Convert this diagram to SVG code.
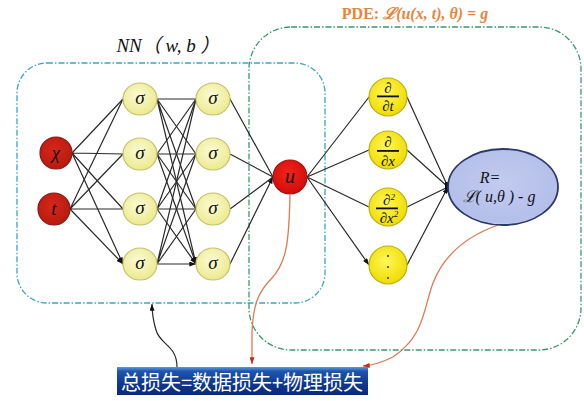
<svg xmlns="http://www.w3.org/2000/svg" width="584" height="401" viewBox="0 0 584 401">
<style>
.e{stroke:#2a2a2a;stroke-width:1.2;fill:none;marker-end:url(#arr)}
.sig{fill:url(#gSig);stroke:#c4c06a;stroke-width:1.2}
.der{fill:url(#gDer);stroke:#bfae10;stroke-width:1.2}
.in{fill:url(#gIn);stroke:#861810;stroke-width:1.2}
.mt{font-family:'Liberation Serif',serif;font-style:italic;fill:#111;text-anchor:middle}
.box{fill:none;stroke-width:1.3;stroke-dasharray:6 2 1.5 2}
</style>
<defs>
<marker id="arr" viewBox="0 0 8 6" refX="8" refY="3" markerWidth="7" markerHeight="5" markerUnits="userSpaceOnUse" orient="auto"><path d="M0,0 L8,3 L0,6 z" fill="#111"/></marker>
<marker id="arrO" viewBox="0 0 8 6" refX="8" refY="3" markerWidth="7" markerHeight="5" markerUnits="userSpaceOnUse" orient="auto"><path d="M0,0 L8,3 L0,6 z" fill="#c8281a"/></marker>
<radialGradient id="gSig" cx="45%" cy="40%" r="60%"><stop offset="0" stop-color="#fbfbd8"/><stop offset="1" stop-color="#ecea8c"/></radialGradient>
<radialGradient id="gDer" cx="45%" cy="40%" r="60%"><stop offset="0" stop-color="#fff75a"/><stop offset="1" stop-color="#eedc00"/></radialGradient>
<radialGradient id="gIn" cx="45%" cy="40%" r="60%"><stop offset="0" stop-color="#d8261a"/><stop offset="1" stop-color="#b81a10"/></radialGradient>
<radialGradient id="gU" cx="45%" cy="40%" r="60%"><stop offset="0" stop-color="#f42418"/><stop offset="1" stop-color="#d00c0c"/></radialGradient>
<radialGradient id="gEl" cx="50%" cy="45%" r="60%"><stop offset="0" stop-color="#c2cbef"/><stop offset="0.85" stop-color="#b4bfea"/><stop offset="1" stop-color="#dfe6fa"/></radialGradient>
<linearGradient id="gBox" x1="0" y1="0" x2="0" y2="1"><stop offset="0" stop-color="#5a9ae0"/><stop offset="0.15" stop-color="#1f55ad"/><stop offset="0.6" stop-color="#0f3791"/><stop offset="1" stop-color="#0a2a78"/></linearGradient>
</defs>
<rect width="584" height="401" fill="#fff"/>

<g id="nn-box">
<rect class="box" x="17" y="63" width="308" height="240" rx="30" ry="30" stroke="#3aa6c4"/>
<text x="168" y="52" class="mt" font-size="19" style="font-family:'Liberation Serif','Noto Sans CJK SC',serif">NN（ <tspan>w, b</tspan> ）</text>
</g>
<g id="pde-box">
<rect class="box" x="249" y="27" width="332" height="323" rx="42" ry="42" stroke="#3a9a6c"/>
<text x="415" y="19" text-anchor="middle" fill="#e8853a" font-size="16" font-weight="bold" font-family="'Liberation Serif','DejaVu Serif',serif">PDE: <tspan font-style="italic">ℒ(u(x, t), θ) = g</tspan></text>
</g>

<g id="connectors">
<path class="e" d="M72,153 L123,99 M72,153 L123,154 M72,153 L123,209 M72,153 L123,264"/>
<path class="e" d="M70,209 L123,99 M70,209 L123,154 M70,209 L123,209 M70,209 L123,264"/>
<path class="e" d="M157,99 L196,99 M157,99 L196,154 M157,99 L196,209 M157,99 L196,264"/>
<path class="e" d="M157,154 L196,99 M157,154 L196,154 M157,154 L196,209 M157,154 L196,264"/>
<path class="e" d="M157,209 L196,99 M157,209 L196,154 M157,209 L196,209 M157,209 L196,264"/>
<path class="e" d="M157,264 L196,99 M157,264 L196,154 M157,264 L196,209 M157,264 L196,264"/>
<path class="e" d="M230,99 L273,177 M230,154 L273,177 M230,209 L273,177 M230,264 L273,177"/>
<path class="e" d="M307,177 L369,97 M307,177 L369,150 M307,177 L369,207 M307,177 L369,265"/>
<path class="e" d="M407,97 L448,187 M407,150 L448,187 M407,207 L448,187 M407,265 L448,187"/>
<rect x="445" y="182" width="5" height="10" fill="#111"/>
<path class="e" d="M177,367 C177,345 160,345 156,330 C153,320 152,312 152,304"/>
<path d="M290,195 C289,240 287,262 272,278 C258,292 253,305 252,333 L252,364" fill="none" stroke="#e07a50" stroke-width="1.3" marker-end="url(#arrO)"/>
<path d="M498,225 C470,235 445,252 433,283 C423,310 425,335 393,357 C383,362 375,365 363,366" fill="none" stroke="#e07a50" stroke-width="1.3" marker-end="url(#arrO)"/>
</g>

<g id="x-node"><circle cx="56" cy="153" r="16" class="in"/><text x="56" y="159" class="mt" font-size="19">χ</text></g>
<g id="t-node"><circle cx="54" cy="209" r="16" class="in"/><text x="54" y="215" class="mt" font-size="19">t</text></g>

<g id="h1-1"><ellipse cx="140" cy="99" rx="17" ry="16" class="sig"/><text x="140" y="104" class="mt" font-size="19">σ</text></g>
<g id="h1-2"><ellipse cx="140" cy="154" rx="17" ry="16" class="sig"/><text x="140" y="159" class="mt" font-size="19">σ</text></g>
<g id="h1-3"><ellipse cx="140" cy="209" rx="17" ry="16" class="sig"/><text x="140" y="214" class="mt" font-size="19">σ</text></g>
<g id="h1-4"><ellipse cx="140" cy="264" rx="17" ry="16" class="sig"/><text x="140" y="269" class="mt" font-size="19">σ</text></g>
<g id="h2-1"><ellipse cx="213" cy="99" rx="17" ry="16" class="sig"/><text x="213" y="104" class="mt" font-size="19">σ</text></g>
<g id="h2-2"><ellipse cx="213" cy="154" rx="17" ry="16" class="sig"/><text x="213" y="159" class="mt" font-size="19">σ</text></g>
<g id="h2-3"><ellipse cx="213" cy="209" rx="17" ry="16" class="sig"/><text x="213" y="214" class="mt" font-size="19">σ</text></g>
<g id="h2-4"><ellipse cx="213" cy="264" rx="17" ry="16" class="sig"/><text x="213" y="269" class="mt" font-size="19">σ</text></g>

<g id="u-node"><circle cx="290" cy="177" r="17" fill="url(#gU)" stroke="#a81010" stroke-width="1.2"/><text x="290" y="183" class="mt" font-size="20">u</text></g>

<g id="d-t"><circle cx="388" cy="97" r="19" class="der"/><text x="388" y="93" class="mt" font-size="15">∂</text><rect x="377" y="95.5" width="22" height="1.8" fill="#111"/><text x="388" y="111" class="mt" font-size="15">∂t</text></g>
<g id="d-x"><circle cx="388" cy="150" r="19" class="der"/><text x="388" y="147" class="mt" font-size="15">∂</text><rect x="377" y="150" width="22" height="1.8" fill="#111"/><text x="388" y="166" class="mt" font-size="15">∂x</text></g>
<g id="d-xx"><circle cx="388" cy="207" r="19" class="der"/><text x="389" y="205" class="mt" font-size="15">∂<tspan font-size="9" dy="-5">2</tspan></text><rect x="376" y="207.5" width="22" height="1.8" fill="#111"/><text x="389" y="223" class="mt" font-size="15">∂x<tspan font-size="9" dy="-6">2</tspan></text></g>
<g id="d-more"><circle cx="388" cy="265" r="19" class="der"/><circle cx="388" cy="256" r="1" fill="#333"/><circle cx="388" cy="267" r="1" fill="#333"/><circle cx="388" cy="278" r="1" fill="#333"/></g>

<g id="residual"><ellipse cx="503" cy="187" rx="55" ry="38" fill="url(#gEl)" stroke="#2c3a6c" stroke-width="1.8"/><text x="490" y="183" class="mt" font-size="16">R=</text><text x="499" y="202" class="mt" font-size="16">ℒ( u,θ ) - g</text></g>

<g id="loss"><rect x="117" y="367" width="251" height="28" fill="url(#gBox)"/><text x="242" y="390" text-anchor="middle" fill="#fff" font-size="20" font-family="'Noto Sans CJK SC',sans-serif">总损失=数据损失+物理损失</text></g>
</svg>
